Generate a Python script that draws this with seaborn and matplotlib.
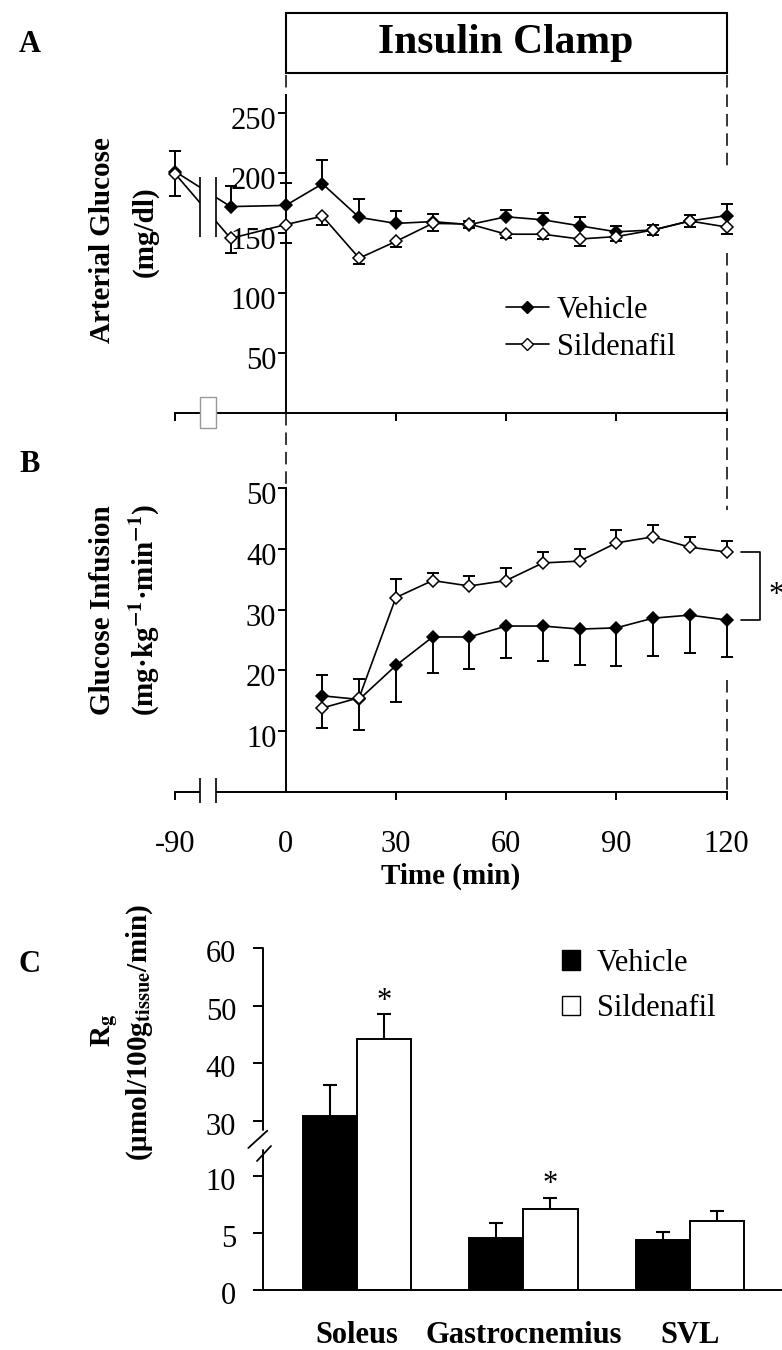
import numpy as np
import pandas as pd
import matplotlib
matplotlib.use("Agg")
import matplotlib.pyplot as plt
import seaborn as sns
from matplotlib.patches import Rectangle, Patch
from matplotlib.lines import Line2D
from matplotlib.transforms import blended_transform_factory, ScaledTranslation

# ---------------- data ----------------
times = [-90, -15, 0, 10, 20, 30, 40, 50, 60, 70, 80, 90, 100, 110, 120]
veh_glu = [201, 172, 173, 191, 163, 158, 159.5, 157, 163.5, 161, 156, 151, 152.5, 160, 164.5]
veh_glu_sem = [17, 17, 19, 20, 15, 10, 6, 3, 5.5, 5.5, 7.5, 5, 4, 5, 10]
veh_glu_dir = [1] * 15
sil_glu = [199, 145.5, 157, 164, 129, 143, 158, 157.5, 149, 149, 145, 147, 152.5, 160, 155]
sil_glu_sem = [18, 12, 15, 7, 5, 5, 6, 3, 3.5, 4, 5.5, 3.4, 4, 5, 6]
sil_glu_dir = [-1] * 15

inf_times = [10, 20, 30, 40, 50, 60, 70, 80, 90, 100, 110, 120]
veh_inf = [15.8, 15.2, 20.8, 25.5, 25.5, 27.3, 27.3, 26.8, 27.0, 28.6, 29.1, 28.3]
veh_inf_sem = [3.5, 5.1, 6.0, 6.0, 5.2, 5.3, 5.7, 6.0, 6.3, 6.3, 6.3, 6.1]
veh_inf_dir = [1, -1, -1, -1, -1, -1, -1, -1, -1, -1, -1, -1]
sil_inf = [13.8, 15.5, 32.0, 34.8, 33.9, 34.8, 37.7, 38.0, 41.0, 42.0, 40.3, 39.5]
sil_inf_sem = [3.3, 3.0, 3.0, 1.2, 1.6, 2.0, 1.8, 2.0, 2.2, 1.9, 1.6, 1.8]
sil_inf_dir = [-1, 1, 1, 1, 1, 1, 1, 1, 1, 1, 1, 1]

x_tick_times = [-90, 0, 30, 60, 90, 120]
glu_ticks = [50, 100, 150, 200, 250]
inf_ticks = [10, 20, 30, 40, 50]

muscles = ["Soleus", "Gastrocnemius", "SVL"]
veh_rg = [30.9, 4.6, 4.4]
veh_rg_sem = [5.3, 1.25, 0.65]
sil_rg = [44.2, 7.1, 6.1]
sil_rg_sem = [4.3, 1.0, 0.85]
sil_sig = [True, True, False]
rg_ticks = [0, 5, 10, 30, 40, 50, 60]
groups = ["Vehicle", "Sildenafil"]

# ---------------- style ----------------
sns.set_theme(style="white")
plt.rcParams["font.family"] = ["Liberation Serif", "DejaVu Serif"]
plt.rcParams["mathtext.fontset"] = "stix"
plt.rcParams["lines.scale_dashes"] = False
for k in ["text.color", "axes.labelcolor", "xtick.color", "ytick.color",
          "axes.edgecolor"]:
    plt.rcParams[k] = "black"
FS = 22
MS = 6.4

W, H = 782, 1350
fig = plt.figure(figsize=(W / 100, H / 100), dpi=100)
fig.patch.set_facecolor("white")


def fx(px):
    return px / W


def fy(py):
    return 1 - py / H


def add_ax(l, t, r, b):
    ax = fig.add_axes([fx(l), fy(b), fx(r) - fx(l), (b - t) / H])
    ax.patch.set_alpha(0)
    return ax


def pos(t):
    # broken time axis: pre-clamp -90 min is drawn compressed at -30
    t = np.asarray(t, float)
    return np.where(t < -15, -30.0, t)


axA = add_ax(175.5, 95, 726.5, 413)
axB = add_ax(175.5, 488.3, 726.5, 791.7)
axC = add_ax(262.7, 948.3, 782, 1290)

LW = 1.4


def draw_series(ax, t, y, sem, dirs, filled):
    x = pos(t)
    y = np.asarray(y, float)
    tops = y + np.asarray(dirs) * np.asarray(sem)
    ax.vlines(x, y, tops, colors="black", lw=LW, zorder=3, clip_on=False)
    ax.plot(x, tops, ls="none", marker="_", ms=8.6, mew=LW, color="black",
            zorder=3, clip_on=False)
    sns.lineplot(x=x, y=y, ax=ax, color="black", lw=1.2, marker="D", ms=MS,
                 markeredgewidth=1.1, markeredgecolor="black",
                 markerfacecolor="black" if filled else "white",
                 errorbar=None, legend=False, clip_on=False, zorder=4)


def style_time_axis(ax, ymax, yticks, show_xlabels):
    ax.set_xlim(-30, 120)
    ax.set_ylim(0, ymax)
    for s in ["top", "right"]:
        ax.spines[s].set_visible(False)
    ax.spines["left"].set_position(("data", 0))
    for s in ["left", "bottom"]:
        ax.spines[s].set_linewidth(LW)
        ax.spines[s].set_color("black")
    ax.set_yticks(yticks)
    ax.set_xticks(pos(x_tick_times))
    ax.set_xticklabels([str(t) for t in x_tick_times])
    ax.tick_params(axis="y", direction="out", length=5.8, width=LW, pad=1,
                   labelsize=FS, left=True, colors="black")
    ax.tick_params(axis="x", direction="out", length=5.5, width=LW, pad=22,
                   labelsize=FS, bottom=True, labelbottom=show_xlabels,
                   colors="black")
    ax.xaxis.get_major_ticks()[1].tick1line.set_visible(False)
    ax.set_xlabel("")
    ax.set_ylabel("")
    ax.grid(False)
    for lab in ax.get_yticklabels():
        lab.set_transform(lab.get_transform() +
                          ScaledTranslation(0, -0.05, fig.dpi_scale_trans))


# ---------------- Panel A ----------------
draw_series(axA, times, veh_glu, veh_glu_sem, veh_glu_dir, True)
draw_series(axA, times, sil_glu, sil_glu_sem, sil_glu_dir, False)
style_time_axis(axA, 265, glu_ticks, False)

# break markers (data line + axis)
axA.add_patch(Rectangle((-23.3, 147), 4.3, 50, facecolor="white",
                        edgecolor="none", zorder=6, clip_on=False))
axA.vlines([-23.3, -19.0], 147, 197, colors="black", lw=1.2, zorder=7,
           clip_on=False)
axA.add_patch(Rectangle((-23.3, -12.5), 4.3, 25.8, facecolor="white",
                        edgecolor="0.6", lw=1.0, zorder=6, clip_on=False))

legA = axA.legend(
    handles=[Line2D([], [], color="black", lw=1.2, marker="D", ms=MS,
                    mfc="black", mec="black"),
             Line2D([], [], color="black", lw=1.2, marker="D", ms=MS,
                    mfc="white", mec="black")],
    labels=groups, loc="center left", bbox_to_anchor=(fx(506), fy(329)),
    bbox_transform=fig.transFigure, frameon=False, fontsize=FS,
    handlelength=1.4, handletextpad=0.26, labelspacing=0.25,
    borderpad=0, borderaxespad=0)

# ---------------- Panel B ----------------
draw_series(axB, inf_times, veh_inf, veh_inf_sem, veh_inf_dir, True)
draw_series(axB, inf_times, sil_inf, sil_inf_sem, sil_inf_dir, False)
style_time_axis(axB, 50, inf_ticks, True)
axB.set_xlabel("Time (min)", fontsize=21, fontweight="bold", labelpad=3,
               color="black")

# axis break
axB.add_patch(Rectangle((-23.3, -1.5), 4.3, 3.0, facecolor="white",
                        edgecolor="none", zorder=6, clip_on=False))
axB.vlines([-23.3, -19.0], -1.9, 2.2, colors="black", lw=1.2, zorder=7,
           clip_on=False)

# significance bracket
bx0, bx1 = 124.0, 129.2
yt, yb = sil_inf[-1], veh_inf[-1]
axB.plot([bx0, bx1, bx1, bx0], [yt, yt, yb, yb], color="black", lw=1.2,
         clip_on=False)
axB.annotate("*", xy=(bx1, (yt + yb) / 2), xytext=(6, -12),
             textcoords="offset points", ha="left", va="baseline",
             fontsize=FS, annotation_clip=False)

# ---------------- header / dashed clamp lines ----------------
btr = blended_transform_factory(axA.transData, fig.transFigure)
fig.add_artist(Rectangle((0, fy(73)), 120, (73 - 13) / H, transform=btr,
                         facecolor="none", edgecolor="black", lw=1.5))
fig.text(60, fy(43), "Insulin Clamp", transform=btr, ha="center",
         va="center", fontsize=30, fontweight="bold")
dash = (0, (9, 5))
for x0, segs in [(0, [(75, 95), (413, 488)]),
                 (120, [(75, 168), (253, 510), (680, 792)])]:
    for a, b in segs:
        fig.add_artist(Line2D([x0, x0], [fy(a), fy(b)], transform=btr,
                              color="black", lw=1.1, ls=dash, zorder=-1))

# ---------------- Panel C ----------------
rg_df = pd.DataFrame({
    "muscle": muscles * 2,
    "group": ["Vehicle"] * 3 + ["Sildenafil"] * 3,
    "value": veh_rg + sil_rg,
})
sns.barplot(data=rg_df, x="muscle", y="value", hue="group", ax=axC,
            palette={"Vehicle": "black", "Sildenafil": "white"},
            edgecolor="black", linewidth=1.4, width=0.65, errorbar=None,
            legend=False, order=muscles, hue_order=groups)


def fwd(v):
    v = np.asarray(v, float)
    return np.where(v <= 10, v * 11.4,
                    np.where(v <= 30, 114 + (v - 10) * 2.77,
                             169.4 + (v - 30) * 5.75))


def inv(p):
    p = np.asarray(p, float)
    return np.where(p <= 114, p / 11.4,
                    np.where(p <= 169.4, 10 + (p - 114) / 2.77,
                             30 + (p - 169.4) / 5.75))


axC.set_yscale("function", functions=(fwd, inv))
axC.set_ylim(0, 60)
axC.set_xlim(-0.564, 2.552)
axC.set_yticks(rg_ticks)
axC.set_yticklabels([str(v) for v in rg_ticks])
axC.yaxis.set_minor_locator(matplotlib.ticker.NullLocator())

for cont, sems, sig in [(axC.containers[0], veh_rg_sem, [False] * 3),
                        (axC.containers[1], sil_rg_sem, sil_sig)]:
    for bar, s, g in zip(cont, sems, sig):
        cx = bar.get_x() + bar.get_width() / 2
        h = bar.get_height()
        axC.vlines(cx, h, h + s, colors="black", lw=1.5, zorder=1)
        axC.plot([cx], [h + s], ls="none", marker="_", ms=9.4, mew=1.5,
                 color="black", zorder=1)
        if g:
            axC.annotate("*", xy=(cx, h + s), xytext=(0, 4),
                         textcoords="offset points", ha="center",
                         va="baseline", fontsize=FS)

for s in ["top", "right", "left"]:
    axC.spines[s].set_visible(False)
axC.spines["bottom"].set_linewidth(LW)
axC.spines["bottom"].set_color("black")
ytr = axC.get_yaxis_transform()
axC.plot([0, 0], [0, 19.4], color="black", lw=LW, transform=ytr,
         clip_on=False)
axC.plot([0, 0], [26.6, 60], color="black", lw=LW, transform=ytr,
         clip_on=False)


def cpx(xp, yp):
    return ((xp - 262.7) / (782 - 262.7), (1290 - yp) / (1290 - 948.3))


for (x1, y1), (x2, y2) in [((248.3, 1148), (267.3, 1130.7)),
                           ((257, 1161), (271, 1146))]:
    p1, p2 = cpx(x1, y1), cpx(x2, y2)
    axC.plot([p1[0], p2[0]], [p1[1], p2[1]], color="black", lw=1.3,
             transform=axC.transAxes, clip_on=False)

axC.tick_params(axis="y", direction="out", length=7.2, width=LW, pad=12,
                labelsize=FS, left=True, colors="black")
axC.tick_params(axis="x", length=0, pad=22, labelsize=FS, colors="black")
for lab in axC.get_xticklabels():
    lab.set_fontweight("bold")
for lab in axC.get_yticklabels():
    lab.set_transform(lab.get_transform() +
                      ScaledTranslation(0, -0.03, fig.dpi_scale_trans))
axC.set_xlabel("")
axC.set_ylabel("")
axC.grid(False)

axC.legend(handles=[Patch(facecolor="black", edgecolor="black", lw=1.0),
                    Patch(facecolor="white", edgecolor="black", lw=1.0)],
           labels=groups, loc="center left",
           bbox_to_anchor=(fx(561.7), fy(986)),
           bbox_transform=fig.transFigure, frameon=False, fontsize=FS,
           handlelength=0.6, handleheight=0.6, handletextpad=0.55,
           labelspacing=0.55, borderpad=0, borderaxespad=0)

# ---------------- labels ----------------
for lab, yp in [("A", 45), ("B", 465), ("C", 965)]:
    fig.text(fx(30), fy(yp), lab, ha="center", va="center", fontsize=FS,
             fontweight="bold")

ytxt = dict(rotation=90, ha="center", va="center", fontsize=21,
            fontweight="bold")
fig.text(fx(103), fy(240), "Arterial Glucose", **ytxt)
fig.text(fx(145), fy(232), "(mg/dl)", **ytxt)
fig.text(fx(103), fy(610), "Glucose Infusion", **ytxt)
fig.text(fx(145), fy(610), r"(mg·kg$^{\mathbf{-1}}$·min$^{\mathbf{-1}}$)",
         **ytxt)
fig.text(fx(105), fy(1030), r"R$_{\mathbf{g}}$", **ytxt)
fig.text(fx(140), fy(1032), r"(μmol/100g$_{\mathbf{tissue}}$/min)", **ytxt)

fig.savefig("out.png", dpi=100, facecolor="white")
